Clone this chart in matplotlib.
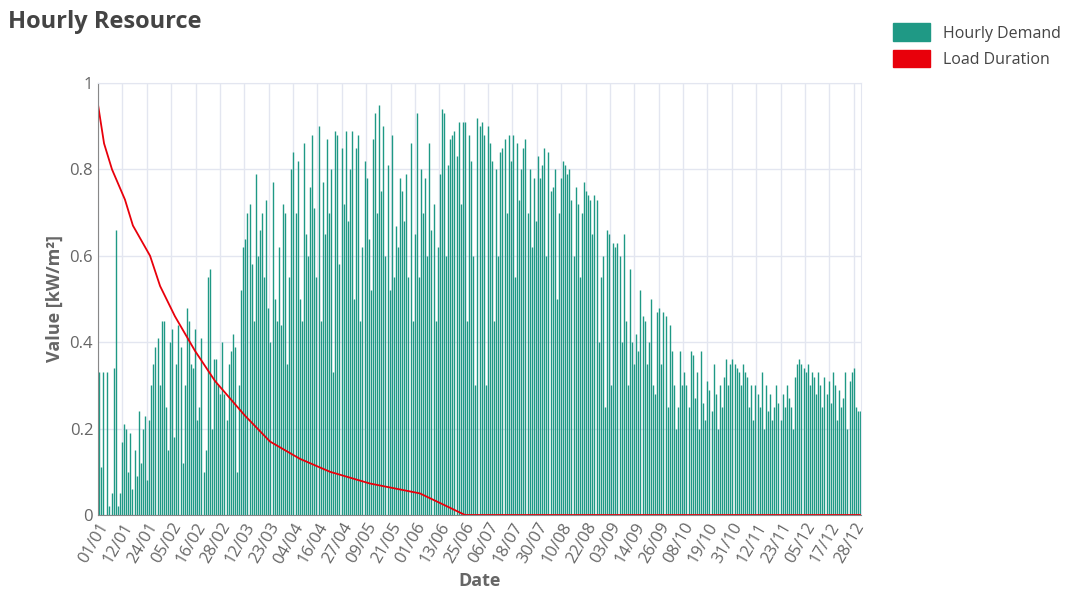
import matplotlib
matplotlib.use("Agg")
import matplotlib.pyplot as plt
import numpy as np
from matplotlib.patches import Patch

plt.rcParams['font.family'] = ['Open Sans', 'DejaVu Sans']

daily_peak = [
0.33,0.11,0.33,0.0,0.33,0.02,0.05,0.34,0.66,0.02,0.05,0.17,0.21,0.20,0.10,0.19,0.06,0.15,0.09,0.24,0.12,0.20,0.23,0.08,0.22,0.30,0.35,0.39,0.41,0.30,0.45,
0.45,0.25,0.15,0.40,0.43,0.18,0.35,0.44,0.39,0.12,0.30,0.48,0.45,0.35,0.34,0.43,0.22,0.25,0.41,0.10,0.15,0.55,0.57,0.20,0.36,0.36,0.30,0.28,
0.40,0.28,0.22,0.35,0.38,0.42,0.39,0.10,0.30,0.52,0.62,0.64,0.70,0.72,0.58,0.45,0.79,0.60,0.66,0.70,0.55,0.73,0.48,0.40,0.77,0.50,0.45,0.62,0.44,0.72,0.70,
0.35,0.55,0.80,0.84,0.70,0.82,0.50,0.45,0.86,0.65,0.60,0.76,0.88,0.71,0.55,0.90,0.45,0.77,0.65,0.87,0.70,0.80,0.33,0.89,0.88,0.58,0.85,0.72,0.89,0.68,
0.80,0.89,0.50,0.85,0.88,0.45,0.62,0.82,0.78,0.64,0.52,0.87,0.93,0.70,0.95,0.75,0.90,0.60,0.81,0.52,0.88,0.55,0.67,0.62,0.78,0.75,0.68,0.79,0.55,0.86,0.45,
0.65,0.93,0.55,0.80,0.70,0.78,0.60,0.86,0.66,0.72,0.45,0.62,0.79,0.94,0.93,0.60,0.81,0.87,0.88,0.89,0.83,0.91,0.72,0.91,0.91,0.45,0.88,0.82,0.60,0.30,
0.92,0.90,0.91,0.88,0.30,0.90,0.86,0.82,0.45,0.80,0.60,0.84,0.85,0.87,0.70,0.88,0.82,0.88,0.55,0.86,0.73,0.80,0.85,0.87,0.70,0.80,0.62,0.78,0.68,0.83,0.78,
0.81,0.85,0.60,0.84,0.75,0.76,0.80,0.50,0.70,0.78,0.82,0.81,0.79,0.80,0.73,0.60,0.76,0.72,0.55,0.70,0.77,0.75,0.74,0.73,0.65,0.74,0.73,0.40,0.55,0.60,0.25,
0.66,0.65,0.30,0.63,0.62,0.63,0.60,0.40,0.65,0.45,0.30,0.57,0.40,0.35,0.42,0.38,0.52,0.46,0.45,0.35,0.40,0.50,0.30,0.28,0.47,0.48,0.35,0.47,0.46,0.25,
0.44,0.38,0.30,0.20,0.25,0.38,0.30,0.33,0.30,0.25,0.38,0.37,0.27,0.33,0.20,0.38,0.26,0.22,0.31,0.29,0.24,0.35,0.28,0.20,0.30,0.25,0.32,0.36,0.30,0.35,0.36,
0.35,0.34,0.33,0.30,0.35,0.33,0.32,0.25,0.30,0.22,0.30,0.28,0.25,0.33,0.20,0.30,0.24,0.28,0.22,0.25,0.30,0.26,0.22,0.28,0.25,0.30,0.27,0.25,0.20,0.32,
0.35,0.36,0.35,0.34,0.33,0.35,0.30,0.33,0.32,0.28,0.33,0.30,0.25,0.32,0.28,0.31,0.26,0.33,0.30,0.22,0.29,0.25,0.27,0.33,0.20,0.31,0.33,0.34,0.25,0.24,0.24]

ld_day = [0, 2.9, 6.7, 12.9, 16.7, 24.9, 29.7, 36.8, 46.4, 56, 70.3, 82.3, 96.6, 111, 130, 154, 175.6, 365]
ld_val = [0.95, 0.86, 0.80, 0.73, 0.67, 0.60, 0.53, 0.46, 0.38, 0.31, 0.23, 0.17, 0.13, 0.10, 0.073, 0.05, 0.0, 0.0]

tick_labels = ["01/01","12/01","24/01","05/02","16/02","28/02","12/03","23/03","04/04","16/04",
"27/04","09/05","21/05","01/06","13/06","25/06","06/07","18/07","30/07","10/08","22/08",
"03/09","14/09","26/09","08/10","19/10","31/10","12/11","23/11","05/12","17/12","28/12"]

green = '#1f9985'
red = '#e8000b'
fig = plt.figure(figsize=(10.75, 6.07), dpi=100)
ax = fig.add_axes([98/1075, 1-515/607, (861-98)/1075, (515-83)/607])

x = np.arange(len(daily_peak))
ax.vlines(x + 0.5, 0, daily_peak, color=green, lw=1.0)
ax.plot(ld_day, ld_val, color=red, lw=1.3)

ax.set_xlim(0, 365)
ax.set_ylim(0, 1)
ax.set_yticks([0, 0.2, 0.4, 0.6, 0.8, 1])
ax.set_yticklabels(['0', '0.2', '0.4', '0.6', '0.8', '1'])
ticks = np.linspace(0, 365 - 3.5, len(tick_labels))
ax.set_xticks(ticks)
ax.set_xticklabels(tick_labels, rotation=60, ha='right', rotation_mode='anchor')
ax.grid(True, color='#e3e6f0', lw=1)
ax.set_axisbelow(True)
for s in ['top', 'right']:
    ax.spines[s].set_color('#e3e6f0')
ax.spines['left'].set_color('#888888')
ax.spines['bottom'].set_color('#888888')
ax.tick_params(colors='#666666', labelsize=12, length=0)
ax.set_xlabel('Date', fontsize=13, fontweight='bold', color='#666666')
ax.set_ylabel('Value [kW/m²]', fontsize=13, fontweight='bold', color='#666666')

fig.text(8/1075, 1-22/607, 'Hourly Resource', fontsize=17, fontweight='bold', color='#444444', va='center')
fig.legend(handles=[Patch(color=green, label='Hourly Demand'), Patch(color=red, label='Load Duration')],
           loc='upper right', bbox_to_anchor=(1.0, 0.985), frameon=False, fontsize=11.5,
           handlelength=2.3, handleheight=1.3, labelcolor='#444444')
fig.savefig('out.png', dpi=100)
